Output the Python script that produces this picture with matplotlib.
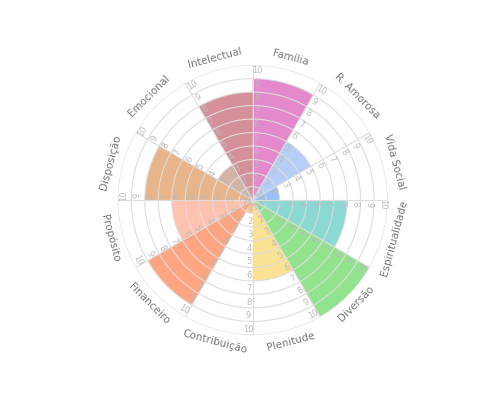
import numpy as np
import matplotlib.pyplot as plt

categories = ["Família", "R. Amorosa", "Vida Social", "Espiritualidade", "Diversão",
              "Plenitude", "Contribuição", "Financeiro", "Propósito", "Disposição",
              "Emocional", "Intelectual"]
values = [9, 5, 2, 7, 10, 6, 1, 9, 6, 8, 3, 8]
colors = ["#dc6cc0", "#a4c2f4", "#7fb2f5", "#6fcfc8", "#77dc72", "#fbdc78",
          "#f5c070", "#ff8f62", "#ffb39a", "#e3a16c", "#c9a08e", "#cc7480"]
ticks = list(range(1, 11))

fig = plt.figure(figsize=(4.95, 4.04), dpi=100)
ax = fig.add_axes([0.238, 0.171, 0.545, 0.668], projection="polar")
ax.set_theta_zero_location("N")
ax.set_theta_direction(-1)
ax.set_ylim(0, 10)
ax.axis("off")

n = len(categories)
width = 2 * np.pi / n
starts = np.arange(n) * width

ax.bar(starts, values, width=width, align="edge", color=colors, alpha=0.8,
       edgecolor="none", zorder=1)

# grid
th = np.linspace(0, 2 * np.pi, 400)
for r in ticks:
    ax.plot(th, [r] * len(th), color="#dddddd", lw=0.8, zorder=2)
for a in starts:
    ax.plot([a, a], [0, 10], color="#dddddd", lw=0.8, zorder=2)


def rot(deg):
    deg = deg % 360
    return -deg if (deg <= 90 or deg >= 270) else 180 - deg


for a in starts:
    d = np.degrees(a)
    for r in ticks:
        ax.text(a + 0.2 / r + 0.015, r - 0.4, str(r), fontsize=6, color="#bbbbbb",
                rotation=rot(d), ha="center", va="center", rotation_mode="anchor", zorder=3)

for a, lab in zip(starts, categories):
    c = a + width / 2
    ax.text(c, 10.9, lab, fontsize=7.5, color="#777777", rotation=rot(np.degrees(c)),
            ha="center", va="center", rotation_mode="anchor")

fig.savefig("out.png", dpi=100)
